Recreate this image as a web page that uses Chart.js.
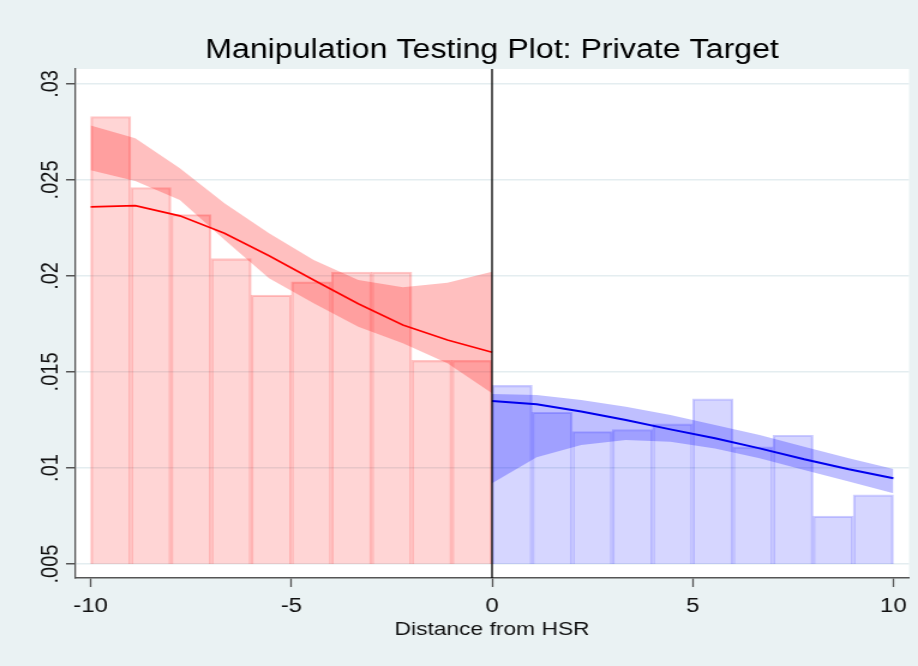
<!DOCTYPE html>
<html>
<head>
<meta charset="utf-8">
<script src="https://cdn.jsdelivr.net/npm/chart.js@4.4.1/dist/chart.umd.min.js"></script>
<style>
  html, body { margin: 0; padding: 0; background: #EAF2F3; overflow: hidden; }
  #wrap { width: 918px; height: 666px; }
  /* the reference is drawn horizontally stretched by 1.2 */
  #c { transform: scaleX(1.2); transform-origin: 0 0; }
</style>
</head>
<body>
<div id="wrap"><canvas id="c" width="765" height="666"></canvas></div>
<script>
// ---- Data ----
const TITLE = 'Manipulation Testing Plot: Private Target';
const X_TITLE = 'Distance from HSR';

// Histogram bins (width 1), bar bottoms at the .005 baseline
const binFloor = 0.005;
const leftBinCenters  = [-9.5, -8.5, -7.5, -6.5, -5.5, -4.5, -3.5, -2.5, -1.5, -0.5];
const leftBinHeights  = [0.0283, 0.0246, 0.0232, 0.0209, 0.0190, 0.0197, 0.0202, 0.0202, 0.0156, 0.0156];
const rightBinCenters = [0.5, 1.5, 2.5, 3.5, 4.5, 5.5, 6.5, 7.5, 8.5, 9.5];
const rightBinHeights = [0.0143, 0.0129, 0.0119, 0.0120, 0.0123, 0.0136, 0.0111, 0.0117, 0.0075, 0.0086];

// Density fit and confidence bands, evaluated on a 10-point grid each side
const leftGrid  = [-10, -8.889, -7.778, -6.667, -5.556, -4.444, -3.333, -2.222, -1.111, 0];
const leftFit   = [0.02360, 0.02366, 0.02313, 0.02222, 0.02105, 0.01979, 0.01855, 0.01745, 0.01667, 0.01603];
const leftUpper = [0.02784, 0.02717, 0.02561, 0.02379, 0.02222, 0.02083, 0.01979, 0.01941, 0.01965, 0.02022];
const leftLower = [0.02550, 0.02495, 0.02396, 0.02188, 0.01988, 0.01858, 0.01736, 0.01650, 0.01545, 0.01389];

const rightGrid  = [0, 1.111, 2.222, 3.333, 4.444, 5.556, 6.667, 7.778, 8.889, 10];
const rightFit   = [0.01349, 0.01332, 0.01294, 0.01250, 0.01201, 0.01155, 0.01102, 0.01045, 0.00993, 0.00946];
const rightUpper = [0.01385, 0.01380, 0.01354, 0.01319, 0.01276, 0.01224, 0.01172, 0.01111, 0.01050, 0.00995];
const rightLower = [0.00920, 0.01056, 0.01120, 0.01146, 0.01137, 0.01102, 0.01050, 0.00990, 0.00929, 0.00868];

// Cutoff line
const cutoffX = [0, 0];

// Axis ranges and ticks
const X_MIN = -10.39, X_MAX = 10.39, X_STEP = 5;
const Y_MIN = 0.00427, Y_MAX = 0.03078, Y_STEP = 0.005;

// ---- Build ----
const pts = (xs, ys) => xs.map((x, i) => ({ x: x, y: ys[i] }));
const bars = (xs, ys) => xs.map((x, i) => ({ x: x, y: [binFloor, ys[i]] }));

Chart.defaults.font.family = "'Liberation Sans', Arial, sans-serif";
Chart.defaults.color = '#111';

const plotBg = {
  id: 'plotBg',
  beforeDraw(chart) {
    const a = chart.chartArea, ctx = chart.ctx;
    ctx.save();
    ctx.fillStyle = '#ffffff';
    ctx.fillRect(a.left, a.top, a.right - a.left, a.bottom - a.top);
    ctx.restore();
  }
};

new Chart(document.getElementById('c'), {
  type: 'bar',
  data: {
    datasets: [
      { type: 'bar', data: bars(leftBinCenters, leftBinHeights), grouped: false,
        backgroundColor: 'rgba(255,0,0,0.165)', borderColor: 'rgba(255,0,0,0.22)', borderWidth: 1.4,
        barPercentage: 1, categoryPercentage: 1, order: 5 },
      { type: 'bar', data: bars(rightBinCenters, rightBinHeights), grouped: false,
        backgroundColor: 'rgba(0,0,255,0.16)', borderColor: 'rgba(0,0,255,0.2)', borderWidth: 1.4,
        barPercentage: 1, categoryPercentage: 1, order: 5 },
      { type: 'line', data: pts(leftGrid, leftLower), borderColor: 'transparent', pointRadius: 0, fill: false, tension: 0, order: 4 },
      { type: 'line', data: pts(leftGrid, leftUpper), borderColor: 'transparent', pointRadius: 0, tension: 0,
        fill: '-1', backgroundColor: 'rgba(255,0,0,0.25)', order: 4 },
      { type: 'line', data: pts(rightGrid, rightLower), borderColor: 'transparent', pointRadius: 0, fill: false, tension: 0, order: 4 },
      { type: 'line', data: pts(rightGrid, rightUpper), borderColor: 'transparent', pointRadius: 0, tension: 0,
        fill: '-1', backgroundColor: 'rgba(0,0,255,0.25)', order: 4 },
      { type: 'line', data: pts(leftGrid, leftFit), borderColor: '#ff0000', borderWidth: 1.6, pointRadius: 0, tension: 0, fill: false, order: 2 },
      { type: 'line', data: pts(rightGrid, rightFit), borderColor: '#0000ee', borderWidth: 2, pointRadius: 0, tension: 0, fill: false, order: 2 },
      { type: 'line', data: pts(cutoffX, [Y_MIN, Y_MAX]), borderColor: '#000000', borderWidth: 1.3, pointRadius: 0, fill: false, order: 1 }
    ]
  },
  options: {
    responsive: false,
    animation: false,
    devicePixelRatio: 1,
    layout: { padding: { left: 0, right: 7.5, top: 0, bottom: 0 } },
    plugins: {
      legend: { display: false },
      tooltip: { enabled: false },
      title: {
        display: true, text: TITLE, color: '#000', fullSize: false,
        font: { size: 26.8, weight: 'normal' },
        padding: { top: 35, bottom: 1.8 }
      }
    },
    scales: {
      x: {
        type: 'linear', min: X_MIN, max: X_MAX, offset: false,
        ticks: { stepSize: X_STEP, includeBounds: false, color: '#111', font: { size: 20 }, padding: 7, maxRotation: 0 },
        grid: { offset: false, drawOnChartArea: false, drawTicks: true, tickLength: 9, tickColor: '#555', tickWidth: 1.3 },
        border: { color: '#555', width: 1.5 },
        title: { display: true, text: X_TITLE, color: '#111', font: { size: 19 }, padding: { top: 0, bottom: 25 } },
        afterFit(s) { s.height = 88; }
      },
      y: {
        type: 'linear', min: Y_MIN, max: Y_MAX,
        ticks: {
          stepSize: Y_STEP, includeBounds: false, color: '#111', font: { size: 20 },
          minRotation: 90, maxRotation: 90, crossAlign: 'center', padding: -7,
          callback: v => v.toFixed(3).replace(/0+$/, '').replace(/^0/, '')
        },
        grid: { color: '#E4EDF0', lineWidth: 1.5, drawTicks: true, tickLength: 7.5, tickColor: '#555', tickWidth: 1.5 },
        border: { color: '#555', width: 1.3 },
        afterFit(s) { s.width = 62.5; }
      }
    }
  },
  plugins: [plotBg]
});
</script>
</body>
</html>
